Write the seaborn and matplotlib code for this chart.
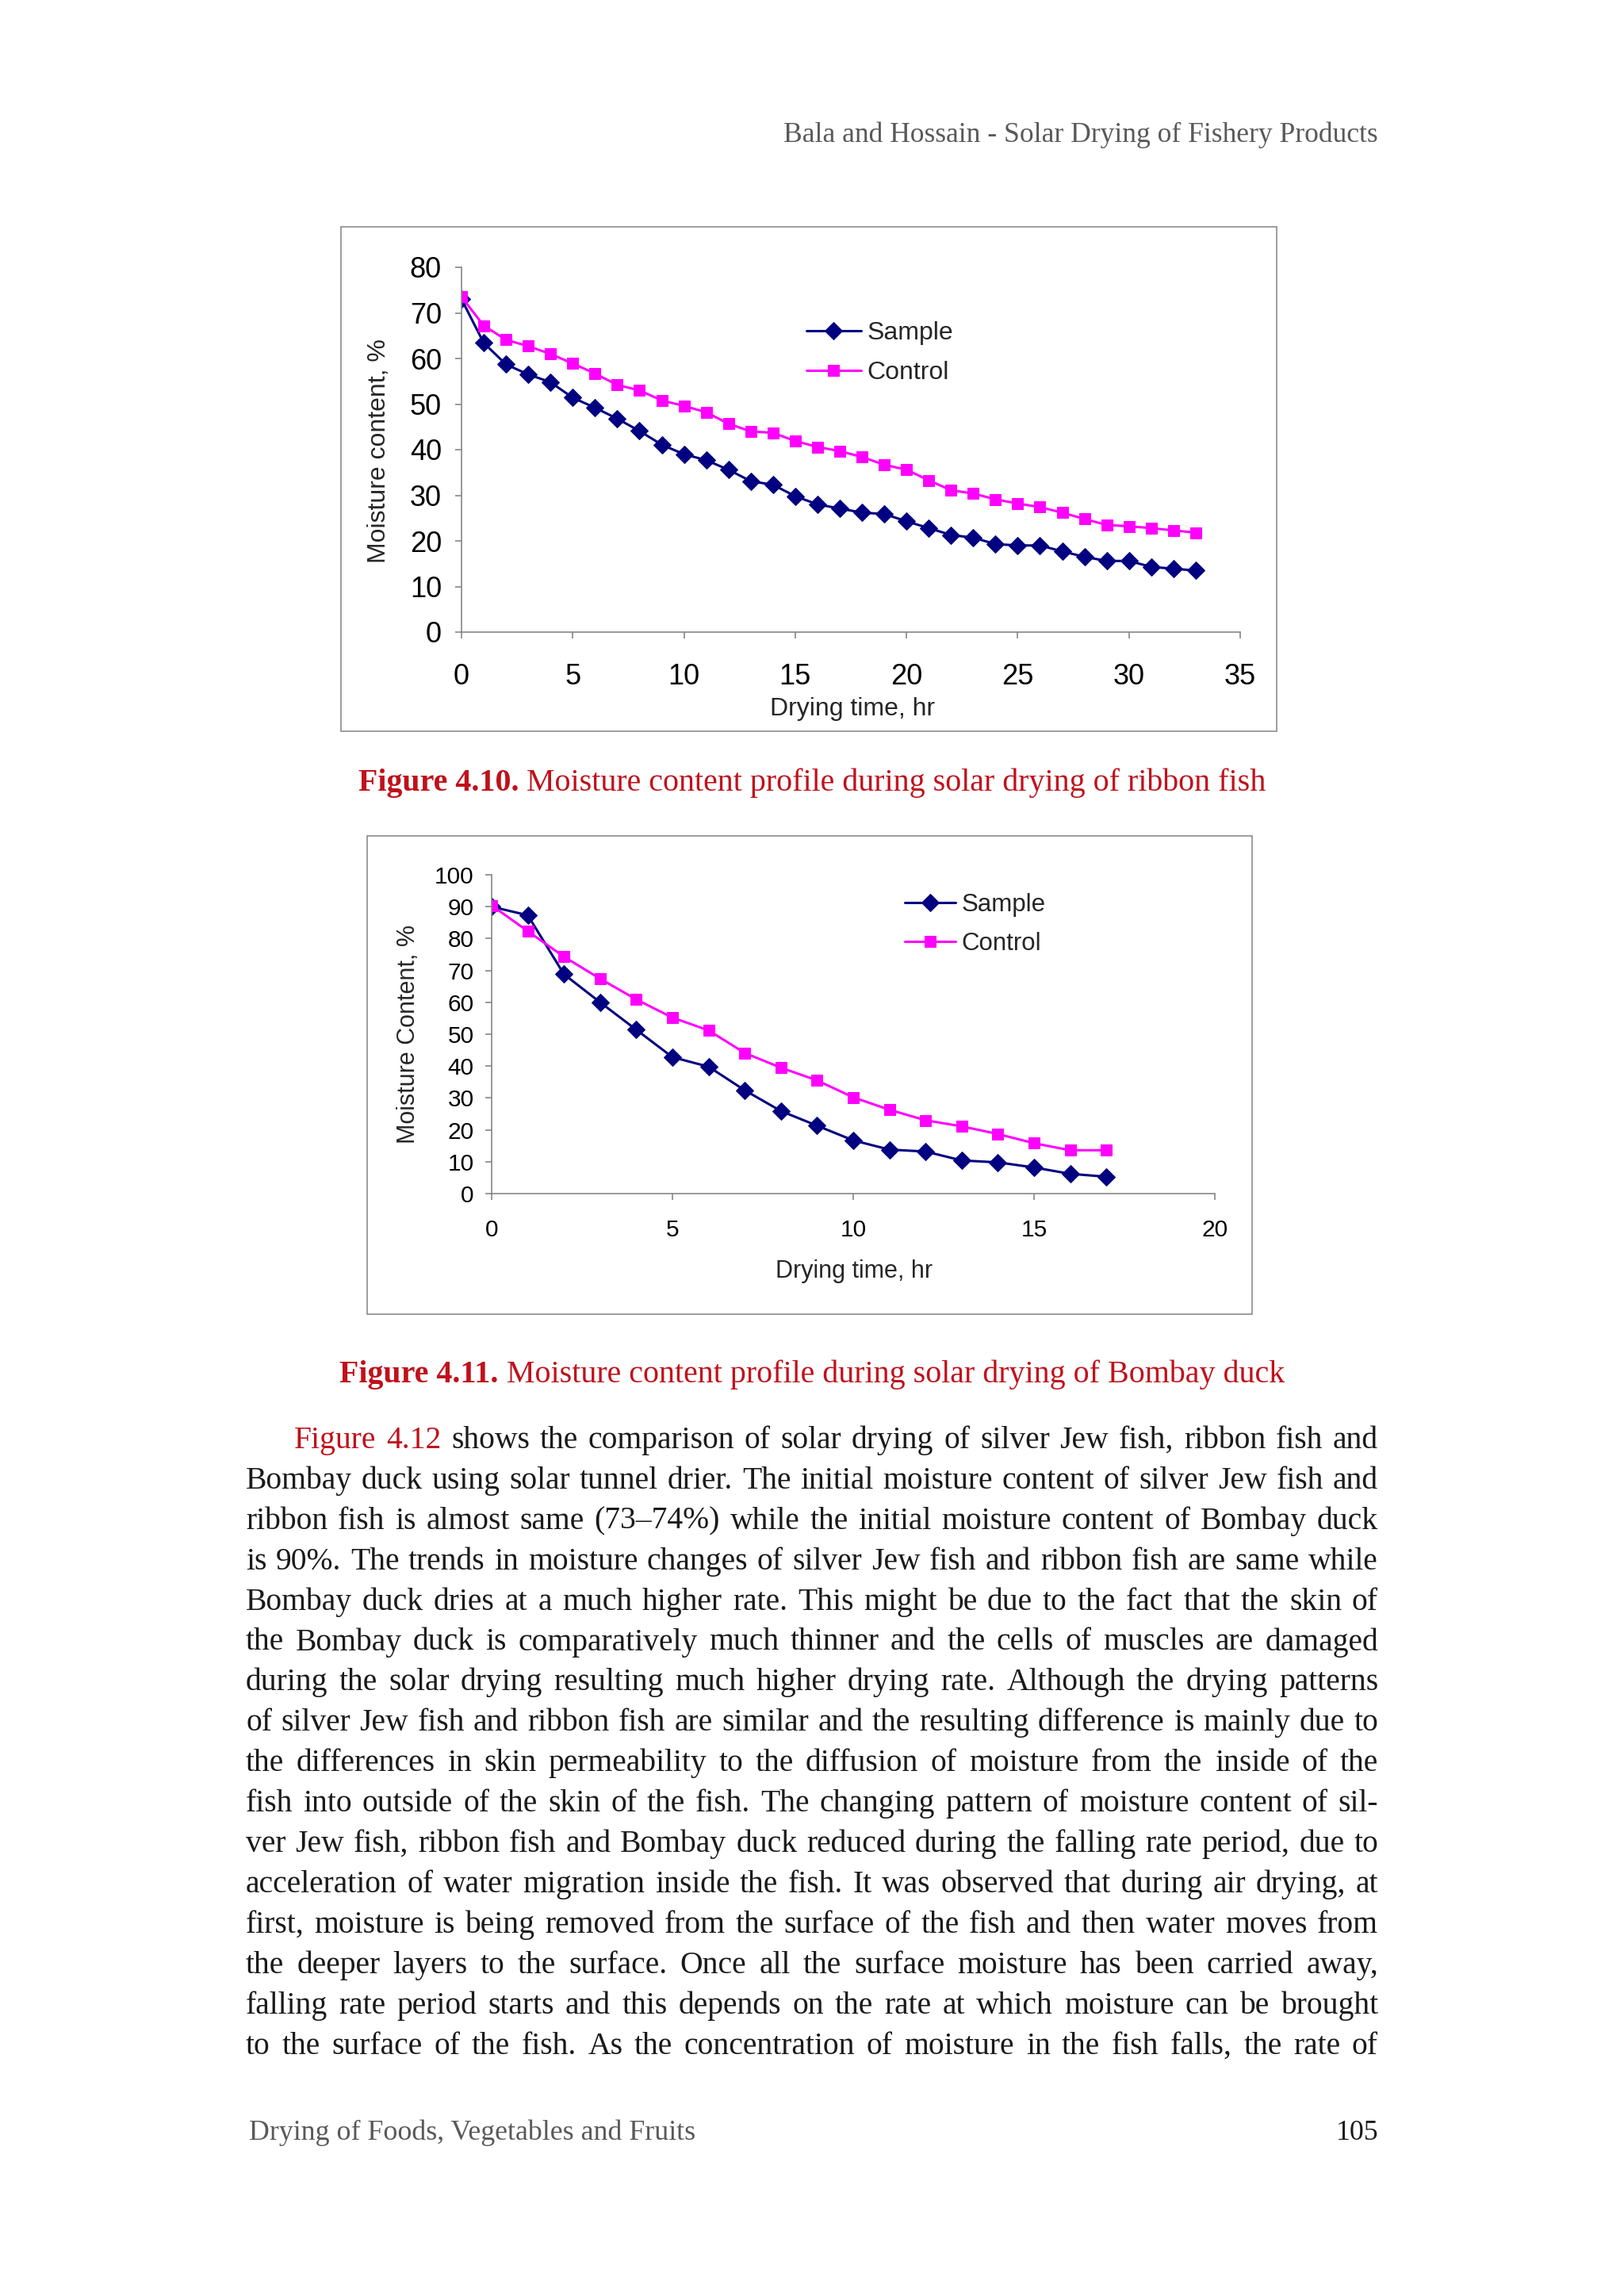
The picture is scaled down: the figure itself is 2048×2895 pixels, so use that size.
import matplotlib
matplotlib.use("Agg")
import matplotlib.pyplot as plt
import seaborn as sns
from matplotlib.patches import Rectangle

# ---- data read from the page ----
hours_ribbon = list(range(0, 34))
sample_ribbon = [73.0, 63.4, 58.7, 56.5, 54.8, 51.4, 49.2, 46.8, 44.1, 41.1,
                 39.0, 37.7, 35.6, 33.1, 32.3, 29.8, 28.0, 27.1, 26.2, 25.9,
                 24.3, 22.8, 21.3, 20.7, 19.3, 19.0, 19.0, 17.7, 16.5, 15.6,
                 15.6, 14.3, 13.9, 13.5]
control_ribbon = [73.5, 67.2, 64.1, 62.7, 61.0, 58.9, 56.7, 54.2, 53.0, 50.8,
                  49.6, 48.2, 45.7, 44.0, 43.7, 41.9, 40.6, 39.7, 38.4, 36.7,
                  35.6, 33.3, 31.1, 30.4, 29.1, 28.2, 27.4, 26.2, 24.8, 23.5,
                  23.2, 22.8, 22.3, 21.8]

hours_bombay = list(range(0, 18))
sample_bombay = [90.0, 87.3, 68.8, 60.0, 51.4, 42.8, 39.8, 32.4, 25.9, 21.3,
                 16.7, 13.8, 13.2, 10.4, 9.8, 8.2, 6.2, 5.3]
control_bombay = [90.4, 82.3, 74.3, 67.4, 60.9, 55.2, 51.2, 44.1, 39.5, 35.5,
                  30.2, 26.3, 23.0, 21.1, 18.7, 15.8, 13.6, 13.6]

series_names = ["Sample", "Control"]

header = "Bala and Hossain - Solar Drying of Fishery Products"
caption_410 = ("Figure 4.10.", "Moisture content profile during solar drying of ribbon fish")
caption_411 = ("Figure 4.11.", "Moisture content profile during solar drying of Bombay duck")
footer_left = "Drying of Foods, Vegetables and Fruits"
footer_page = "105"
body_lines = [
    "Figure 4.12 shows the comparison of solar drying of silver Jew fish, ribbon fish and",
    "Bombay duck using solar tunnel drier. The initial moisture content of silver Jew fish and",
    "ribbon fish is almost same (73\u201374%) while the initial moisture content of Bombay duck",
    "is 90%. The trends in moisture changes of silver Jew fish and ribbon fish are same while",
    "Bombay duck dries at a much higher rate. This might be due to the fact that the skin of",
    "the Bombay duck is comparatively much thinner and the cells of muscles are damaged",
    "during the solar drying resulting much higher drying rate. Although the drying patterns",
    "of silver Jew fish and ribbon fish are similar and the resulting difference is mainly due to",
    "the differences in skin permeability to the diffusion of moisture from the inside of the",
    "fish into outside of the skin of the fish. The changing pattern of moisture content of sil-",
    "ver Jew fish, ribbon fish and Bombay duck reduced during the falling rate period, due to",
    "acceleration of water migration inside the fish. It was observed that during air drying, at",
    "first, moisture is being removed from the surface of the fish and then water moves from",
    "the deeper layers to the surface. Once all the surface moisture has been carried away,",
    "falling rate period starts and this depends on the rate at which moisture can be brought",
    "to the surface of the fish. As the concentration of moisture in the fish falls, the rate of",
]

# ---- styling ----
sns.set_theme(style="white")
plt.rcParams["font.family"] = ["Liberation Sans", "DejaVu Sans"]
SERIF = ["Liberation Serif", "DejaVu Serif"]
NAVY = "#000080"
MAGENTA = "#FF00FF"
RED = "#C0111B"
GREY_AX = "#868686"

W, H = 2048, 2895
fig = plt.figure(figsize=(W / 100, H / 100), dpi=100)
fig.patch.set_facecolor("white")
renderer = fig.canvas.get_renderer()


def fx(px):
    return px / W


def fy(py):
    return 1 - py / H


def px_axes(left, top, right, bottom):
    return fig.add_axes([fx(left), fy(bottom), fx(right) - fx(left), (bottom - top) / H])


def chart(ax, hours, sample, control, xmax, ymax, tick_fs, lab_fs, ylabel,
          xpad, ypad, xlab_xy, ylab_xy, leg_xy, leg_fs, handlelen, labspace):
    sns.lineplot(x=hours, y=sample, ax=ax, color=NAVY, lw=2.2, marker="D",
                 markersize=11, markeredgecolor=NAVY, label=series_names[0])
    sns.lineplot(x=hours, y=control, ax=ax, color=MAGENTA, lw=2.2, marker="s",
                 markersize=10, markeredgecolor=MAGENTA, label=series_names[1])
    ax.set_xlim(0, xmax)
    ax.set_ylim(0, ymax)
    ax.set_xticks(range(0, xmax + 1, 5))
    ax.set_yticks(range(0, ymax + 1, 10))
    ax.set_facecolor("white")
    for side in ["top", "right"]:
        ax.spines[side].set_visible(False)
    for side in ["left", "bottom"]:
        ax.spines[side].set_color(GREY_AX)
        ax.spines[side].set_linewidth(1.2)
    ax.tick_params(axis="both", direction="out", length=6, width=1.2,
                   color=GREY_AX, labelsize=tick_fs, labelcolor="black")
    ax.tick_params(axis="x", pad=xpad, bottom=True)
    ax.tick_params(axis="y", pad=ypad, left=True)
    ax.set_xlabel("Drying time, hr", fontsize=lab_fs, va="center")
    ax.set_ylabel(ylabel, fontsize=lab_fs, va="center")
    ax.xaxis.set_label_coords(*xlab_xy)
    ax.yaxis.set_label_coords(*ylab_xy)
    ax.legend(loc="upper left", bbox_to_anchor=(fx(leg_xy[0]), fy(leg_xy[1])),
              bbox_transform=fig.transFigure, frameon=False, fontsize=leg_fs,
              borderpad=0, borderaxespad=0, handlelength=handlelen,
              handletextpad=0.25, labelspacing=labspace)


# chart boxes
for (l, t, r, b) in [(430, 286, 1610, 922), (463, 1054, 1579, 1657)]:
    fig.add_artist(Rectangle((fx(l), fy(b)), fx(r) - fx(l), (b - t) / H,
                             transform=fig.transFigure, fill=False,
                             edgecolor="#8c8c8c", lw=1.2))

# figure 4.10 - ribbon fish
ax1 = px_axes(582, 337, 1564, 797)
chart(ax1, hours_ribbon, sample_ribbon, control_ribbon, 35, 80, 26, 23,
      "Moisture content, %", 22, 12,
      ((1075 - 582) / 982, (797 - 894) / 460), ((478 - 582) / 982, 0.496),
      (1017, 405), 23, 2.15, 0.62)

# figure 4.11 - Bombay duck
ax2 = px_axes(620, 1103, 1532, 1505)
chart(ax2, hours_bombay, sample_bombay, control_bombay, 20, 100, 21.5, 22,
      "Moisture Content, %", 17, 10,
      ((1077 - 620) / 912, (1505 - 1603) / 402), ((515 - 620) / 912, 0.5),
      (1141, 1126), 22.5, 2.05, 0.62)


# ---- page text ----
def width_of(t):
    return t.get_window_extent(renderer).width


fig.text(fx(1738), fy(179), header, ha="right", va="baseline",
         family=SERIF, fontsize=25.6, color="#595959")


def caption(parts, cx, base):
    bold = fig.text(0, fy(base), parts[0], va="baseline", family=SERIF,
                    fontsize=28.8, fontweight="bold", color=RED)
    rest = fig.text(0, fy(base), " " + parts[1], va="baseline", family=SERIF,
                    fontsize=28.8, color=RED)
    wb, wr = width_of(bold), width_of(rest)
    x0 = cx - (wb + wr) / 2
    bold.set_x(fx(x0))
    rest.set_x(fx(x0 + wb))


caption(caption_410, 1024, 997)
caption(caption_411, 1024, 1743)

BODY_L, BODY_R, INDENT = 310, 1738, 61
for i, line in enumerate(body_lines):
    base = 1826 + 50.9 * i
    words = line.split(" ")
    left = BODY_L + (INDENT if i == 0 else 0)
    texts = []
    for j, w in enumerate(words):
        col = RED if (i == 0 and j < 2) else "#1a1a1a"
        texts.append(fig.text(0, fy(base), w, va="baseline", family=SERIF,
                              fontsize=28.5, color=col))
    widths = [width_of(t) for t in texts]
    gap = (BODY_R - left - sum(widths)) / (len(texts) - 1)
    x = left
    for t, wd in zip(texts, widths):
        t.set_x(fx(x))
        x += wd + gap

fig.text(fx(314), fy(2698), footer_left, ha="left", va="baseline",
         family=SERIF, fontsize=25.8, color="#595959")
fig.text(fx(1738), fy(2698), footer_page, ha="right", va="baseline",
         family=SERIF, fontsize=25.8, color="#1a1a1a")

fig.savefig("out.png", dpi=100, facecolor="white")
